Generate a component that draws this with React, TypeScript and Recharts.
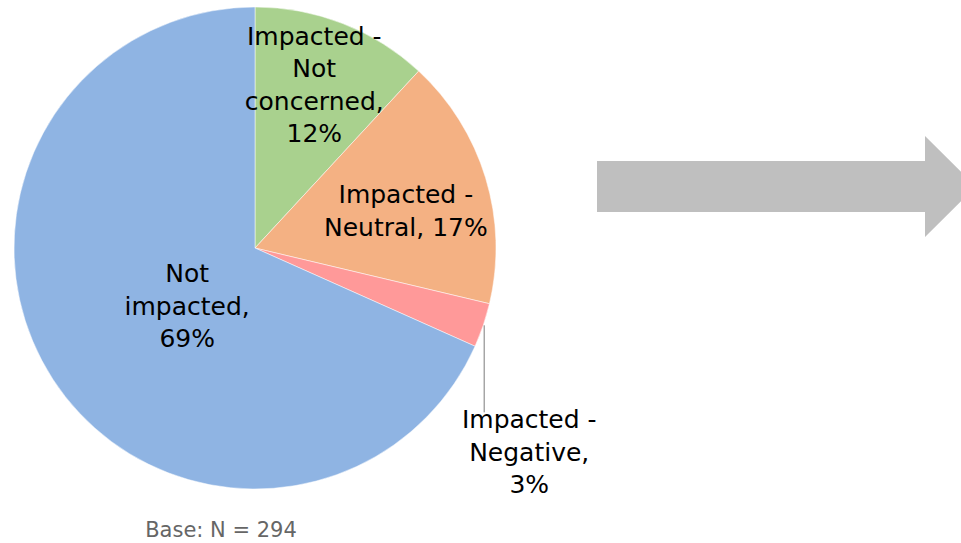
import { PieChart, Pie, Cell } from "recharts";

const categories = [
  "Impacted - Not concerned",
  "Impacted - Neutral",
  "Impacted - Negative",
  "Not impacted",
];
const shares = [12, 17, 3, 69];
const colors = ["#A9D18E", "#F4B183", "#FF9999", "#8FB4E3"];
const labelBreaks = [
  ["Impacted -", "Not", "concerned,"],
  ["Impacted -", "Neutral,"],
  ["Impacted -", "Negative,"],
  ["Not", "impacted,"],
];
const baseNote = "Base: N = 294";

const data = categories.map((name, i) => ({ name, value: shares[i] }));

const FONT = "'DejaVu Sans', sans-serif";
const FS = 25;
const LH = 32.5;
const CAP = 18.2;

// placement of each label: radius fraction + nudge, pct on same line or not
const layout = [
  { r: 0.72, nx: -4, ny: -2, inline: false, outside: false },
  { r: 0.65, nx: 1, ny: 8, inline: true, outside: false },
  { r: 1, nx: 0, ny: 0, inline: false, outside: true },
  { r: 0.37, nx: 7, ny: 9, inline: false, outside: false },
];

const RAD = Math.PI / 180;

function renderLabel(props: any) {
  const { cx, cy, midAngle, outerRadius, index, value } = props;
  const cfg = layout[index];
  const pct = `${value}%`;
  const lines = [...labelBreaks[index]];
  if (cfg.inline) lines[lines.length - 1] += " " + pct;
  else lines.push(pct);

  const cos = Math.cos(-midAngle * RAD);
  const sin = Math.sin(-midAngle * RAD);

  if (cfg.outside) {
    const px = cx + outerRadius * cos;
    const py = cy + outerRadius * sin;
    const tx = px + 46;
    const firstBase = py + 103;
    return (
      <g key={`lbl-${index}`}>
        <line x1={px + 1} y1={py} x2={px + 1} y2={py + 87} stroke="#A6A6A6" strokeWidth={1.5} />
        {lines.map((t, j) => (
          <text key={j} x={tx} y={firstBase + j * LH} textAnchor="middle" fill="#000" fontSize={FS} fontFamily={FONT}>
            {t}
          </text>
        ))}
      </g>
    );
  }

  const r = outerRadius * cfg.r;
  const x = cx + r * cos + cfg.nx;
  const y = cy + r * sin + cfg.ny;
  const h = CAP + (lines.length - 1) * LH;
  const firstBase = y - h / 2 + CAP;
  return (
    <g key={`lbl-${index}`}>
      {lines.map((t, j) => (
        <text key={j} x={x} y={firstBase + j * LH} textAnchor="middle" fill="#000" fontSize={FS} fontFamily={FONT}>
          {t}
        </text>
      ))}
    </g>
  );
}

export default function App() {
  return (
    <div style={{ position: "absolute", left: 0, top: 0, width: 961, height: 543, background: "#fff" }}>
      <PieChart width={961} height={543} margin={{ top: 0, right: 0, bottom: 0, left: 0 }}>
        <Pie
          data={data}
          dataKey="value"
          nameKey="name"
          cx={255}
          cy={248}
          outerRadius={241}
          startAngle={90}
          endAngle={-270}
          stroke="#fff"
          strokeWidth={0.5}
          label={renderLabel}
          labelLine={false}
          isAnimationActive={false}
        >
          {data.map((d, i) => (
            <Cell key={d.name} fill={colors[i]} />
          ))}
        </Pie>
      </PieChart>
      <svg width={961} height={543} style={{ position: "absolute", left: 0, top: 0, pointerEvents: "none" }}>
        <polygon
          points="597,161 925,161 925,136 976,186.5 925,237 925,212 597,212"
          fill="#BFBFBF"
        />
        <text x={221} y={537} textAnchor="middle" fill="#666" fontSize={21} fontFamily={FONT}>
          {baseNote}
        </text>
      </svg>
    </div>
  );
}
